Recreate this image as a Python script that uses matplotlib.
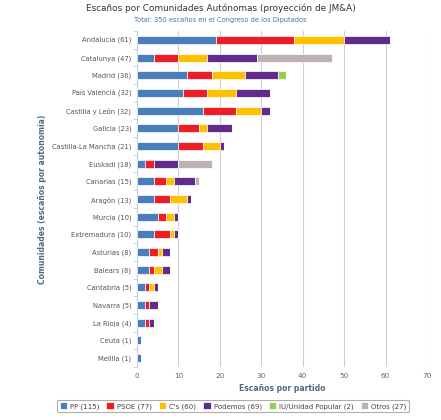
import numpy as np
import matplotlib.pyplot as plt

comunidades = ["Andalucía (61)", "Catalunya (47)", "Madrid (36)", "País Valencià (32)",
               "Castilla y León (32)", "Galicia (23)", "Castilla-La Mancha (21)", "Euskadi (18)",
               "Canarias (15)", "Aragón (13)", "Murcia (10)", "Extremadura (10)",
               "Asturias (8)", "Balears (8)", "Cantabria (5)", "Navarra (5)",
               "La Rioja (4)", "Ceuta (1)", "Melilla (1)"]

pp      = [19, 4, 12, 11, 16, 10, 10, 2, 4, 4, 5, 4, 3, 3, 2, 2, 2, 1, 1]
psoe    = [19, 6, 6, 6, 8, 5, 6, 2, 3, 4, 2, 4, 2, 1, 1, 1, 1, 0, 0]
cs      = [12, 7, 8, 7, 6, 2, 4, 0, 2, 4, 2, 1, 1, 2, 1, 0, 0, 0, 0]
podemos = [11, 12, 8, 8, 2, 6, 1, 6, 5, 1, 1, 1, 2, 2, 1, 2, 1, 0, 0]
iu      = [0, 0, 2, 0, 0, 0, 0, 0, 0, 0, 0, 0, 0, 0, 0, 0, 0, 0, 0]
otros   = [0, 18, 0, 0, 0, 0, 0, 8, 1, 0, 0, 0, 0, 0, 0, 0, 0, 0, 0]

series = [("PP (115)", pp, "#4a7ebb"),
          ("PSOE (77)", psoe, "#ee1c25"),
          ("C's (60)", cs, "#ffc000"),
          ("Podemos (69)", podemos, "#612b8a"),
          ("IU/Unidad Popular (2)", iu, "#92d050"),
          ("Otros (27)", otros, "#bdb1b1")]

fig = plt.figure(figsize=(4.41, 4.20), dpi=100)
ax = fig.add_axes([137/441, 1 - 367/420, 290/441, 336/420])

y = np.arange(len(comunidades))
izq = np.zeros(len(comunidades))
for nombre, vals, color in series:
    vals = np.array(vals, dtype=float)
    ax.barh(y, vals, left=izq, height=0.45, color=color, edgecolor="white",
            linewidth=0.5, label=nombre, zorder=3)
    izq += vals

ax.set_ylim(len(comunidades) - 0.5, -0.5)
ax.set_xlim(0, 70)
ax.set_yticks(y)
ax.set_yticklabels(comunidades, fontsize=4.9, color="#555555")
ax.set_yticks(np.arange(-0.5, len(comunidades), 1), minor=True)
ax.tick_params(axis="y", which="major", length=0, pad=4)
ax.tick_params(axis="y", which="minor", length=3, color="#c0d0e0", width=0.6)
ax.set_xticks(range(0, 71, 10))
ax.tick_params(axis="x", length=0, labelsize=5.2, labelcolor="#666666", pad=4)
ax.grid(axis="x", color="#d0d0d0", linewidth=0.8, zorder=0)

for s in ["top", "right", "bottom"]:
    ax.spines[s].set_visible(False)
ax.spines["left"].set_color("#c0d0e0")
ax.spines["left"].set_linewidth(0.8)

ax.set_xlabel("Escaños por partido", fontsize=5.5, color="#4d6a8a",
              fontweight="bold", labelpad=4)
ax.set_ylabel("Comunidades (escaños por autonomía)", fontsize=5.5, color="#4d6a8a",
              fontweight="bold")
ax.yaxis.set_label_coords(-(137 - 47) / 290, 0.5)

fig.text(0.5, 1 - 8/420, "Escaños por Comunidades Autónomas (proyección de JM&A)",
         ha="center", va="center", fontsize=6.4, color="#333333")
fig.text(0.5, 1 - 20/420, "Total: 350 escaños en el Congreso de los Diputados",
         ha="center", va="center", fontsize=4.8, color="#4d759e")

leg = fig.legend(loc="center", bbox_to_anchor=(233/441, 1 - 406/420), ncol=6,
                 fontsize=5, frameon=True, handlelength=1.1, handleheight=1.1,
                 handletextpad=0.4, columnspacing=1.0, borderpad=0.4)
leg.get_frame().set_edgecolor("#999999")
leg.get_frame().set_linewidth(0.8)
for t in leg.get_texts():
    t.set_color("#444444")

fig.savefig("out.png", dpi=100)
